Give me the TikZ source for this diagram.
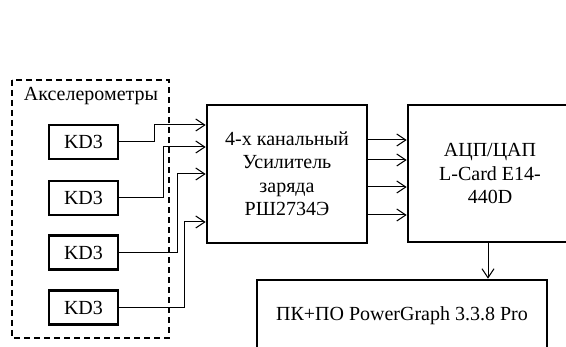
\documentclass[tikz,border=0pt]{standalone}
\usepackage{fontspec}
\setmainfont{Liberation Serif}
\usetikzlibrary{arrows.meta}

\begin{document}
\begin{tikzpicture}[x=1pt, y=-1pt,
    block/.style={draw, line width=2.7pt, align=center, inner sep=0pt},
    sensor/.style={block, minimum width=69pt, minimum height=34pt},
    sig/.style={line width=1pt, -{Straight Barb[length=9pt, width=12pt, line width=1pt]}},
    font=\fontsize{20}{23.5}\selectfont]
    \useasboundingbox (0,0) rectangle (566,347);
    \clip (0,0) rectangle (566,347);

    % Accelerometer group
    \draw[line width=1.6pt, dash pattern=on 6pt off 4pt] (12,80) rectangle (169,338);
    \node (grp) at (91,96) {Акселерометры};

    % Sensors
    \node[sensor] (kd1) at (83.5,142) {KD3};
    \node[sensor] (kd2) at (83.5,198) {KD3};
    \node[sensor] (kd3) at (83.5,252.5) {KD3};
    \node[sensor] (kd4) at (83.5,307.5) {KD3};

    % Charge amplifier
    \node[block, minimum width=160pt, minimum height=138pt] (amp) at (287,174)
        {4-х канальный\\Усилитель\\заряда\\РШ2734Э};

    % ADC / DAC
    \node[block, minimum width=164pt, minimum height=137pt] (adc) at (490,173.5)
        {АЦП/ЦАП\\L-Card E14-\\440D};

    % PC
    \node[block, minimum width=290pt, minimum height=72pt] (pc) at (402,316)
        {ПК+ПО PowerGraph 3.3.8 Pro};

    % Sensor lines
    \draw[sig] (kd1.east) -- ++(35,0) |- ([yshift=49pt]amp.west);
    \draw[sig] (kd2.east) -- ++(44,0) |- ([yshift=27pt]amp.west);
    \draw[sig] (kd3.east) -- ++(58,0) |- (amp.west);
    \draw[sig] (kd4.east) -- ++(65,0) |- ([yshift=-48pt]amp.west);

    % Amplifier outputs
    \foreach \s in {34,14,-13,-41}
        \draw[sig] ([yshift=\s pt]amp.east) -- ([yshift=\s pt]amp.east -| adc.west);

    % To PC
    \draw[sig] ([xshift=-2pt]adc.south) -- ([xshift=-2pt]adc.south |- pc.north);
\end{tikzpicture}
\end{document}
